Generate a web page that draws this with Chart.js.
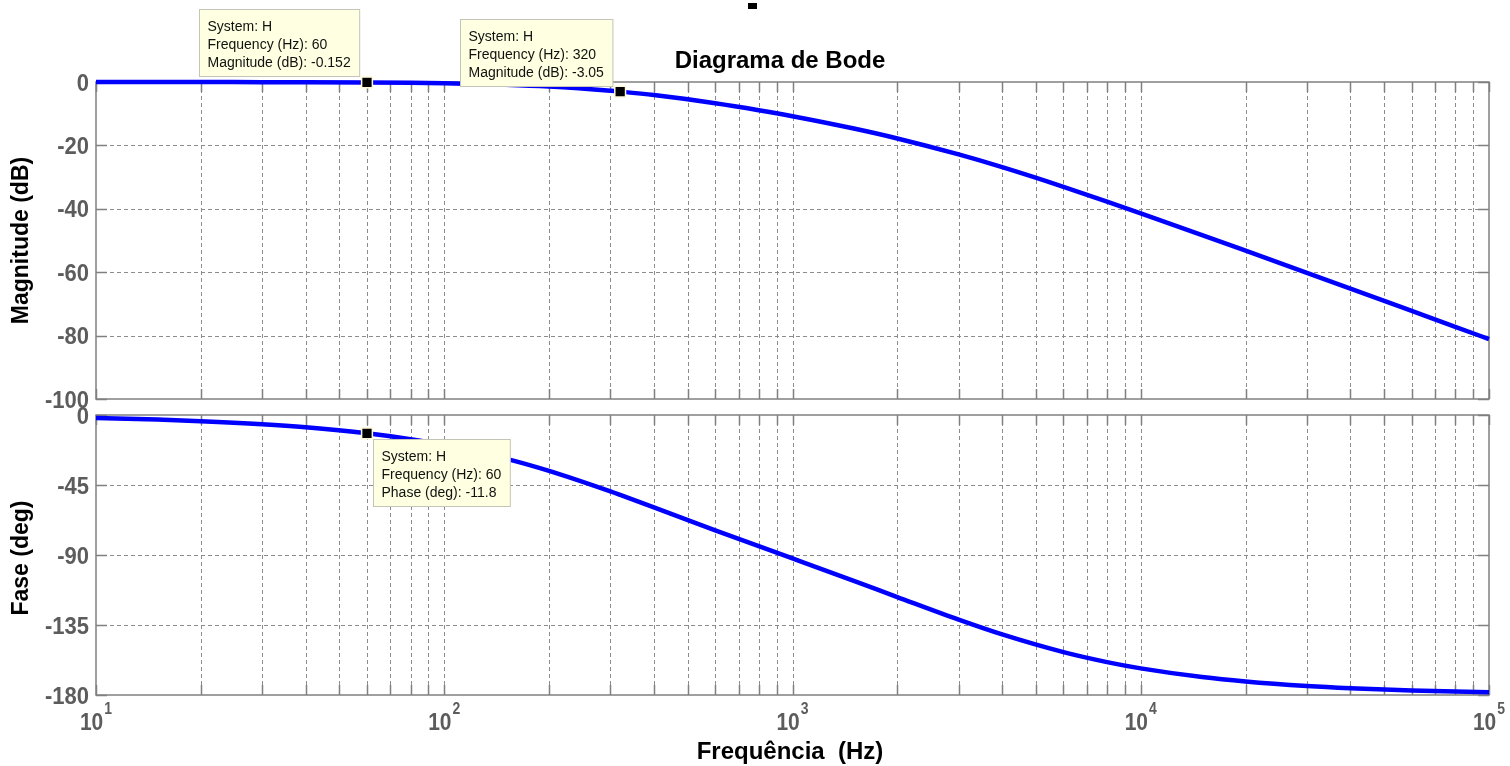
<!DOCTYPE html>
<html><head><meta charset="utf-8">
<script src="https://cdn.jsdelivr.net/npm/chart.js@4.4.1/dist/chart.umd.min.js"></script>
<style>
html,body{margin:0;padding:0;background:#fff;overflow:hidden}
#wrap{position:relative;width:1510px;height:766px;background:#fff}
canvas{position:absolute;left:0;top:0}
</style></head>
<body><div id="wrap"><canvas id="c1" width="1510" height="766"></canvas><canvas id="c2" width="1510" height="766"></canvas></div>
<script>
// ---- data ----
const frequencies = [10,15,20,30,40,60,80,100,150,200,300,320,400,600,800,1000,1500,2000,3000,4000,6000,8000,10000,15000,20000,30000,40000,60000,80000,100000];
const magnitudeDb = [0.00,-0.01,-0.02,-0.04,-0.07,-0.15,-0.26,-0.40,-0.86,-1.43,-2.75,-3.03,-4.13,-6.69,-8.89,-10.79,-14.68,-17.81,-22.85,-26.86,-33.05,-37.70,-41.41,-48.28,-53.22,-60.22,-65.20,-72.23,-77.22,-81.10];
const phaseDeg = [-1.98,-2.97,-3.96,-5.94,-7.90,-11.78,-15.59,-19.30,-28.06,-35.96,-49.15,-51.42,-59.42,-74.10,-84.34,-92.22,-106.64,-117.06,-131.56,-141.07,-152.45,-158.85,-162.88,-168.46,-171.30,-174.18,-175.63,-177.09,-177.82,-178.25];
const xDecades = [10,100,1000,10000,100000];
const xExponents = ['1','2','3','4','5'];
const xMinorMultipliers = [2,3,4,5,6,7,8,9];
const magTicks = [0,-20,-40,-60,-80,-100];
const phaseTicks = [0,-45,-90,-135,-180];
const magMarkerFreq = [60,320];
const magMarkerValue = [-0.152,-3.05];
const phaseMarkerFreq = [60];
const phaseMarkerValue = [-11.8];
const systemName = 'H';
const titleText = 'Diagrama de Bode';
const magAxisTitle = 'Magnitude (dB)';
const phaseAxisTitle = 'Fase (deg)';
const xAxisTitle = 'Frequência  (Hz)';
const magTipLabel = 'Magnitude (dB)';
const phaseTipLabel = 'Phase (deg)';

const xGrid = [];
xDecades.forEach((d,i)=>{ xGrid.push(d); if(i<xDecades.length-1) xMinorMultipliers.forEach(m=>xGrid.push(d*m)); });

const FONT = '"Liberation Sans", Arial, Helvetica, sans-serif';
const TICK_COLOR = '#5c5c5c';

function sText(ctx, text, x, y, font, color, align, sy){
  ctx.save(); ctx.font = font; ctx.fillStyle = color; ctx.textAlign = align; ctx.textBaseline = 'alphabetic';
  ctx.translate(x, y); ctx.scale(1, sy); ctx.fillText(text, 0, 0); ctx.restore();
}

function drawTip(ctx, px, py, lines, dir){
  ctx.save();
  ctx.font = '14px ' + FONT;
  const w = Math.max(...lines.map(l=>ctx.measureText(l).width)) + 17;
  const h = 67;
  let bx, by;
  if (dir === 'ul') { bx = px - 8 - w; by = py - 6 - h; } else { bx = px + 6; by = py + 6; }
  bx = Math.round(bx) + 0.5; by = Math.round(by) + 0.5;
  ctx.fillStyle = '#ffffe1'; ctx.fillRect(bx, by, w, h);
  ctx.strokeStyle = '#c4c4b8'; ctx.lineWidth = 1; ctx.strokeRect(bx, by, w, h);
  ctx.fillStyle = '#111'; ctx.textAlign = 'left'; ctx.textBaseline = 'alphabetic';
  lines.forEach((l,i)=>ctx.fillText(l, bx + 8, by + 21.5 + i*17.8));
  ctx.restore();
}

const bodePlugin = {
  id: 'bode',
  beforeDatasetsDraw(chart, args, o){
    const {ctx, chartArea:a} = chart; const x = chart.scales.x, y = chart.scales.y;
    ctx.save();
    ctx.strokeStyle = '#8c8c8c'; ctx.lineWidth = 1; ctx.setLineDash([4,3]);
    xGrid.forEach(v=>{
      const px = Math.round(x.getPixelForValue(v)) + 0.5;
      if (px <= a.left + 2 || px >= a.right - 2) return;
      ctx.beginPath(); ctx.moveTo(px, a.top); ctx.lineTo(px, a.bottom); ctx.stroke();
    });
    o.yTicks.forEach(v=>{
      const py = Math.round(y.getPixelForValue(v)) + 0.5;
      if (py <= a.top + 2 || py >= a.bottom - 2) return;
      ctx.beginPath(); ctx.moveTo(a.left, py); ctx.lineTo(a.right, py); ctx.stroke();
    });
    ctx.setLineDash([]);
    ctx.strokeStyle = '#808080'; ctx.lineWidth = 1.5;
    ctx.beginPath();
    xGrid.forEach(v=>{
      const px = Math.round(x.getPixelForValue(v)) + 0.5;
      ctx.moveTo(px, a.bottom); ctx.lineTo(px, a.bottom - 10);
      ctx.moveTo(px, a.top); ctx.lineTo(px, a.top + 10);
    });
    o.yTicks.forEach(v=>{
      const py = Math.round(y.getPixelForValue(v)) + 0.5;
      ctx.moveTo(a.left, py); ctx.lineTo(a.left + 11, py);
      ctx.moveTo(a.right, py); ctx.lineTo(a.right - 11, py);
    });
    ctx.stroke();
    ctx.strokeRect(a.left, a.top, a.right - a.left, a.bottom - a.top);
    // y tick labels
    o.yTicks.forEach(v=>{
      const py = y.getPixelForValue(v);
      sText(ctx, String(v), a.left - 7, py + 8.6, 'bold 22px ' + FONT, TICK_COLOR, 'right', 1.1);
    });
    // y axis title
    ctx.save();
    ctx.translate(22, (a.top + a.bottom) / 2 + o.titleShift);
    ctx.rotate(-Math.PI / 2);
    ctx.font = 'bold ' + o.yTitleSize + 'px ' + FONT; ctx.fillStyle = '#000'; ctx.textAlign = 'center'; ctx.textBaseline = 'middle';
    ctx.fillText(o.yTitle, 0, 0);
    ctx.restore();
    if (o.drawX) {
      xDecades.forEach((d,i)=>{
        const px = x.getPixelForValue(d);
        ctx.font = 'bold 21px ' + FONT; const wb = ctx.measureText('10').width;
        ctx.font = 'bold 14px ' + FONT; const we = ctx.measureText(xExponents[i]).width;
        const start = px - (wb + 1 + we) / 2;
        sText(ctx, '10', start, 730, 'bold 21px ' + FONT, TICK_COLOR, 'left', 1.18);
        sText(ctx, xExponents[i], start + wb + 1, 714, 'bold 14px ' + FONT, TICK_COLOR, 'left', 1.15);
      });
      sText(ctx, xAxisTitle, 790, 759, 'bold 24px ' + FONT, '#000', 'center', 1.0);
    }
    if (o.drawTitle) {
      sText(ctx, titleText, 780, 68, 'bold 24px ' + FONT, '#000', 'center', 1.0);
      ctx.fillStyle = '#000'; ctx.fillRect(748, 3, 9, 6);
    }
    ctx.restore();
  },
  afterDatasetsDraw(chart, args, o){
    const meta = chart.getDatasetMeta(0);
    meta.data.forEach((pt, i)=>{
      const lines = ['System: ' + systemName, 'Frequency (Hz): ' + o.tipFreq[i], o.tipLabel + ': ' + o.tipValue[i]];
      drawTip(chart.ctx, pt.x, pt.y, lines, o.tipDir);
    });
  }
};

function makeChart(id, values, yMin, markerF, markerV, pluginOpts, padding){
  return new Chart(document.getElementById(id), {
    type: 'line',
    data: {
      datasets: [
        {
          data: markerF.map((f,i)=>({x:f, y:markerV[i]})),
          showLine: false, pointStyle: 'rect', pointRadius: 7.6, pointHoverRadius: 7.6,
          pointBackgroundColor: '#000', pointBorderColor: '#fff8d8', pointBorderWidth: 1.5,
          clip: false, order: 0
        },
        {
          data: frequencies.map((f,i)=>({x:f, y:values[i]})),
          borderColor: '#0000ff', borderWidth: 4.5, pointRadius: 0, pointHoverRadius: 0,
          cubicInterpolationMode: 'monotone', fill: false, clip: false, order: 1
        }
      ]
    },
    options: {
      responsive: false, animation: false, devicePixelRatio: 1,
      events: [],
      layout: { padding: padding },
      scales: {
        x: { type: 'logarithmic', min: 10, max: 100000, display: false },
        y: { type: 'linear', min: yMin, max: 0, display: false }
      },
      plugins: { legend: {display:false}, tooltip: {enabled:false}, bode: pluginOpts }
    },
    plugins: [bodePlugin]
  });
}

makeChart('c1', magnitudeDb, -100, magMarkerFreq, magMarkerValue,
  { yTicks: magTicks, yTitle: magAxisTitle, yTitleSize: 23, titleShift: 0, drawX: false, drawTitle: true,
    tipDir: 'ul', tipFreq: magMarkerFreq, tipValue: magMarkerValue, tipLabel: magTipLabel },
  { left: 96, right: 21, top: 82, bottom: 367 });

makeChart('c2', phaseDeg, -180, phaseMarkerFreq, phaseMarkerValue,
  { yTicks: phaseTicks, yTitle: phaseAxisTitle, yTitleSize: 23, titleShift: 3, drawX: true, drawTitle: false,
    tipDir: 'dr', tipFreq: phaseMarkerFreq, tipValue: phaseMarkerValue, tipLabel: phaseTipLabel },
  { left: 96, right: 21, top: 415, bottom: 71 });
</script>
</body></html>
